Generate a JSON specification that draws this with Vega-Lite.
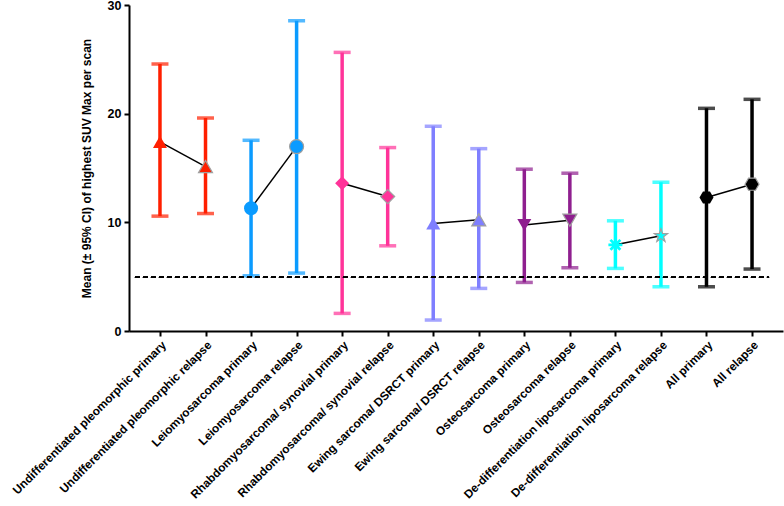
{
  "$schema": "https://vega.github.io/schema/vega-lite/v6.json",
  "width": 654,
  "height": 326,
  "autosize": {"type": "none"},
  "padding": {"left": 129, "top": 5, "right": 1, "bottom": 175},
  "config": {"font": "Liberation Sans", "view": {"stroke": null}},
  "data": {
    "values": [
      {"cat": "Undifferentiated pleomorphic primary", "group": "UPS", "type": "primary", "mean": 17.4, "lo": 10.57, "hi": 24.57},
      {"cat": "Undifferentiated pleomorphic relapse", "group": "UPS", "type": "relapse", "mean": 15.13, "lo": 10.81, "hi": 19.6},
      {"cat": "Leiomyosarcoma primary", "group": "LMS", "type": "primary", "mean": 11.3, "lo": 5.08, "hi": 17.55},
      {"cat": "Leiomyosarcoma relapse", "group": "LMS", "type": "relapse", "mean": 16.97, "lo": 5.33, "hi": 28.55},
      {"cat": "Rhabdomyosarcoma/ synovial primary", "group": "RMS", "type": "primary", "mean": 13.6, "lo": 1.62, "hi": 25.64},
      {"cat": "Rhabdomyosarcoma/ synovial relapse", "group": "RMS", "type": "relapse", "mean": 12.37, "lo": 7.84, "hi": 16.88},
      {"cat": "Ewing sarcoma/ DSRCT primary", "group": "EWS", "type": "primary", "mean": 9.9, "lo": 1.01, "hi": 18.84},
      {"cat": "Ewing sarcoma/ DSRCT relapse", "group": "EWS", "type": "relapse", "mean": 10.23, "lo": 3.92, "hi": 16.78},
      {"cat": "Osteosarcoma primary", "group": "OS", "type": "primary", "mean": 9.75, "lo": 4.47, "hi": 14.89},
      {"cat": "Osteosarcoma relapse", "group": "OS", "type": "relapse", "mean": 10.2, "lo": 5.82, "hi": 14.52},
      {"cat": "De-differentiation liposarcoma primary", "group": "DDL", "type": "primary", "mean": 7.93, "lo": 5.76, "hi": 10.14},
      {"cat": "De-differentiation liposarcoma relapse", "group": "DDL", "type": "relapse", "mean": 8.76, "lo": 4.07, "hi": 13.69},
      {"cat": "All primary", "group": "ALL", "type": "primary", "mean": 12.28, "lo": 4.07, "hi": 20.49},
      {"cat": "All relapse", "group": "ALL", "type": "relapse", "mean": 13.51, "lo": 5.7, "hi": 21.32}
    ]
  },
  "encoding": {
    "x": {
      "field": "cat", "type": "nominal", "sort": null,
      "scale": {"type": "point", "padding": 0.68},
      "axis": {
        "title": null, "labelAngle": -45, "labelFontWeight": "bold", "labelFontSize": 11.8,
        "labelColor": "black", "domainColor": "black", "domainWidth": 2,
        "tickColor": "black", "tickWidth": 2, "tickSize": 5, "labelPadding": 3, "labelLimit": 300
      }
    }
  },
  "layer": [
    {
      "mark": {"type": "rule", "strokeWidth": 3.5},
      "encoding": {
        "y": {
          "field": "lo", "type": "quantitative",
          "scale": {"domain": [0, 30], "nice": false},
          "axis": {
            "title": "Mean (± 95% CI) of highest SUV Max per scan", "values": [0, 10, 20, 30],
            "grid": false, "labelFontWeight": "bold", "labelFontSize": 12.5, "labelColor": "black",
            "titleFontWeight": "bold", "titleFontSize": 12, "titleColor": "black", "titlePadding": 14,
            "domainColor": "black", "domainWidth": 2, "tickColor": "black", "tickWidth": 2, "tickSize": 5, "labelPadding": 3
          }
        },
        "y2": {"field": "hi"},
        "color": {"field": "group", "type": "nominal", "legend": null,
          "scale": {"domain": ["UPS", "LMS", "RMS", "EWS", "OS", "DDL", "ALL"],
                    "range": ["#FF1F00", "#0A9BFF", "#FF3399", "#7F7FFF", "#8F1F8F", "#00FFFF", "#000000"]}}
      }
    },
    {
      "mark": {"type": "tick", "thickness": 3.5, "size": 17},
      "encoding": {
        "y": {"field": "hi", "type": "quantitative"},
        "color": {"field": "group", "type": "nominal", "legend": null}
      }
    },
    {
      "mark": {"type": "tick", "thickness": 3.5, "size": 17},
      "encoding": {
        "y": {"field": "lo", "type": "quantitative"},
        "color": {"field": "group", "type": "nominal", "legend": null}
      }
    },
    {
      "mark": {"type": "rule", "strokeDash": [5, 3], "strokeWidth": 1.2, "color": "black", "xOffset": -25, "x2Offset": 17},
      "encoding": {
        "x": {"datum": "Undifferentiated pleomorphic primary"},
        "x2": {"datum": "All relapse"},
        "y": {"datum": 4.93, "type": "quantitative"}
      }
    },
    {
      "mark": {"type": "line", "color": "black", "strokeWidth": 1.5},
      "encoding": {
        "y": {"field": "mean", "type": "quantitative"},
        "detail": {"field": "group", "type": "nominal"}
      }
    },
    {
      "mark": {"type": "point", "filled": true, "opacity": 1, "size": 196, "stroke": "#A0A0A0"},
      "encoding": {
        "y": {"field": "mean", "type": "quantitative"},
        "color": {"field": "group", "type": "nominal", "legend": null},
        "shape": {"field": "cat", "type": "nominal", "legend": null, "sort": null,
          "scale": {"domain": [
              "Undifferentiated pleomorphic primary", "Undifferentiated pleomorphic relapse",
              "Leiomyosarcoma primary", "Leiomyosarcoma relapse",
              "Rhabdomyosarcoma/ synovial primary", "Rhabdomyosarcoma/ synovial relapse",
              "Ewing sarcoma/ DSRCT primary", "Ewing sarcoma/ DSRCT relapse",
              "Osteosarcoma primary", "Osteosarcoma relapse",
              "De-differentiation liposarcoma primary", "De-differentiation liposarcoma relapse",
              "All primary", "All relapse"],
            "range": ["triangle-up", "triangle-up", "circle", "circle", "diamond", "diamond",
                      "triangle-up", "triangle-up", "triangle-down", "triangle-down",
                      "M-1,-0.2L1,-0.2L1,0.2L-1,0.2ZM-0.2,-1L0.2,-1L0.2,1L-0.2,1ZM-0.566,-0.849L0.849,0.566L0.566,0.849L-0.849,-0.566ZM-0.849,0.566L0.566,-0.849L0.849,-0.566L-0.566,0.849Z",
                      "M0,-1L0.235,-0.324L0.951,-0.309L0.380,0.124L0.588,0.809L0,0.4L-0.588,0.809L-0.380,0.124L-0.951,-0.309L-0.235,-0.324Z",
                      "M-1,0L-0.5,-0.866L0.5,-0.866L1,0L0.5,0.866L-0.5,0.866Z",
                      "M-1,0L-0.5,-0.866L0.5,-0.866L1,0L0.5,0.866L-0.5,0.866Z"]}},
        "strokeWidth": {"field": "type", "type": "nominal", "legend": null,
          "scale": {"domain": ["primary", "relapse"], "range": [0, 1.2]}}
      }
    }
  ]
}
